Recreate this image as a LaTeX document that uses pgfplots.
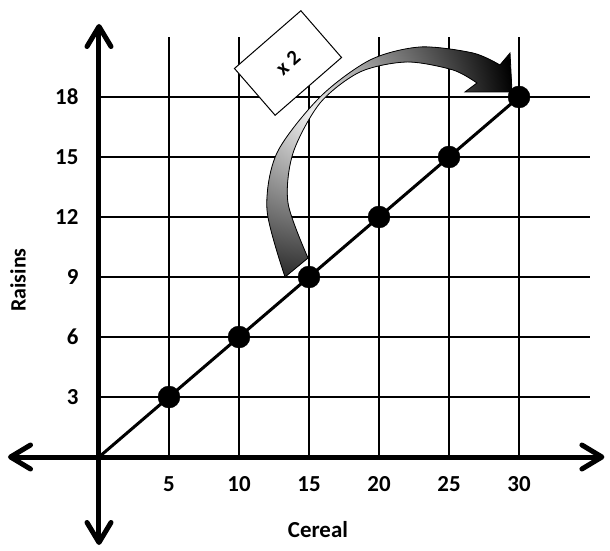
\documentclass[border=0pt]{standalone}
\usepackage{pgfplots}
\pgfplotsset{compat=1.18}
\usepackage{fontspec}
\setmainfont{Carlito}
\usetikzlibrary{arrows.meta}
\begin{document}
\begin{tikzpicture}
\pgfplotstableread{
x y
5 3
10 6
15 9
20 12
25 15
30 18
}\pts
\begin{axis}[
  x=14bp, y=20bp,
  xmin=-6.5, xmax=36.1, ymin=-4.4, ymax=21.65,
  axis lines=middle,
  every inner x axis line/.append style={line width=5bp, {Straight Barb[length=20bp,width=24bp,round]}-{Straight Barb[length=20bp,width=24bp,round]}},
  every inner y axis line/.append style={line width=5bp, {Straight Barb[length=20bp,width=24bp,round]}-{Straight Barb[length=20bp,width=24bp,round]}},
  xtick={5,10,15,20,25,30}, ytick={3,6,9,12,15,18},
  major tick length=0pt,
  tick label style={font=\fontsize{23}{27}\selectfont\bfseries},
  /pgf/number format/assume math mode=true,
  xticklabel style={yshift=-16bp},
  yticklabel style={xshift=-17bp},
  clip=false,
]
\coordinate (bbl) at (axis cs:-7.071,-4.65);
\coordinate (btr) at (axis cs:36.5,22.85);
\pgfplotsinvokeforeach{5,10,15,20,25,30}{\draw[line width=2.5bp] (axis cs:#1,0) -- (axis cs:#1,21);}
\pgfplotsinvokeforeach{3,6,9,12,15,18}{\draw[line width=2.5bp] (axis cs:0,#1) -- (axis cs:35.1,#1);}
% curved arrow annotation
\begin{scope}
\clip plot[smooth] coordinates {(axis cs:13.29,9.0) (axis cs:12.0,12.35) (axis cs:12.71,15.2) (axis cs:15.79,18.0) (axis cs:19.36,19.85) (axis cs:22.93,20.5) (axis cs:26.71,20.2) (axis cs:28.64,19.6)}
  -- (axis cs:29.36,20.2) -- (axis cs:29.5,18.25) -- (axis cs:26.14,18.25) --
  plot[smooth] coordinates {(axis cs:27.0,18.7) (axis cs:25.29,19.35) (axis cs:22.0,19.75) (axis cs:18.64,19.25) (axis cs:15.79,17.7) (axis cs:13.86,15.2) (axis cs:13.5,12.7) (axis cs:14.93,9.95)} -- cycle;
\fill[black] (axis cs:10,8) rectangle (axis cs:31,21);
\shade[inner color=gray!10, outer color=black] (axis cs:15.43,17.1) circle[radius=200bp];
\end{scope}
\draw[line width=0.8bp] plot[smooth] coordinates {(axis cs:13.29,9.0) (axis cs:12.0,12.35) (axis cs:12.71,15.2) (axis cs:15.79,18.0) (axis cs:19.36,19.85) (axis cs:22.93,20.5) (axis cs:26.71,20.2) (axis cs:28.64,19.6)}
  -- (axis cs:29.36,20.2) -- (axis cs:29.5,18.25) -- (axis cs:26.14,18.25) --
  plot[smooth] coordinates {(axis cs:27.0,18.7) (axis cs:25.29,19.35) (axis cs:22.0,19.75) (axis cs:18.64,19.25) (axis cs:15.79,17.7) (axis cs:13.86,15.2) (axis cs:13.5,12.7) (axis cs:14.93,9.95)} -- cycle;
\addplot[black, line width=3bp, no marks] coordinates {(0,0) (30,18)};
\addplot[black, only marks, mark=*, mark size=11bp] table {\pts};
\node[draw, fill=white, line width=1bp, rotate=41, minimum width=88bp, minimum height=62bp, font=\fontsize{21}{25}\selectfont\bfseries] at (axis cs:13.5,19.7) {x 2};
\node[font=\fontsize{23}{27}\selectfont\bfseries] at (axis cs:15.64,-3.65) {Cereal};
\node[rotate=90, font=\fontsize{22}{26}\selectfont\bfseries] at (axis cs:-5.79,8.85) {Raisins};
\end{axis}
\pgfresetboundingbox
\path (bbl) rectangle (btr);
\end{tikzpicture}
\end{document}
